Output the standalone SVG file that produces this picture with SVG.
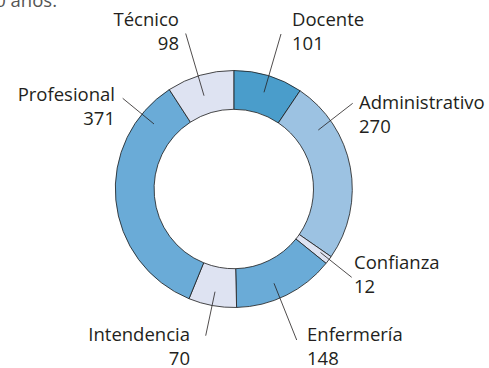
<svg xmlns="http://www.w3.org/2000/svg" width="489" height="368" viewBox="0 0 489 368">
<style>
.s{stroke:#1a1a1a;stroke-width:0.8;stroke-linejoin:round}
.dk{fill:#4a9dcb}.md{fill:#6aabd7}.lt{fill:#9cc2e2}.pl{fill:#dee3f2}
text{font-family:"Open Sans","Noto Sans",sans-serif;font-size:18.5px;fill:#231f20}
.e{text-anchor:end}
.ld{stroke:#231f20;stroke-width:0.8;fill:none}
</style>
<rect width="489" height="368" fill="#fff"/>
<text x="57" y="7" class="e" style="fill:#555">0 años.</text>
<g id="docente">
<path class="s dk" d="M233.8,70.5 A118.5,118.5 0 0 1 300.03,90.74 L278.34,122.91 A79.7,79.7 0 0 0 233.8,109.3 Z"/>
<text x="292" y="26">Docente</text><text x="292" y="50">101</text>
</g>
<g id="administrativo">
<path class="s lt" d="M300.03,90.74 A118.5,118.5 0 0 1 331.09,256.66 L299.23,234.51 A79.7,79.7 0 0 0 278.34,122.91 Z"/>
<text x="359" y="109">Administrativo</text><text x="359" y="133">270</text>
</g>
<g id="confianza">
<path class="s pl" d="M331.09,256.66 A118.5,118.5 0 0 1 326.06,263.36 L295.85,239.01 A79.7,79.7 0 0 0 299.23,234.51 Z"/>
<text x="354" y="269">Confianza</text><text x="354" y="293">12</text>
</g>
<g id="enfermeria">
<path class="s md" d="M326.06,263.36 A118.5,118.5 0 0 1 236.58,307.47 L235.67,268.68 A79.7,79.7 0 0 0 295.85,239.01 Z"/>
<text x="307" y="341">Enfermería</text><text x="307" y="365">148</text>
</g>
<g id="intendencia">
<path class="s pl" d="M236.58,307.47 A118.5,118.5 0 0 1 189.02,298.71 L203.68,262.79 A79.7,79.7 0 0 0 235.67,268.68 Z"/>
<text x="190" y="341" class="e">Intendencia</text><text x="190" y="365" class="e">70</text>
</g>
<g id="profesional">
<path class="s md" d="M189.02,298.71 A118.5,118.5 0 0 1 169.30,89.59 L190.42,122.14 A79.7,79.7 0 0 0 203.68,262.79 Z"/>
<text x="115" y="101" class="e">Profesional</text><text x="115" y="125" class="e">371</text>
</g>
<g id="tecnico">
<path class="s pl" d="M169.30,89.59 A118.5,118.5 0 0 1 233.8,70.5 L233.8,109.3 A79.7,79.7 0 0 0 190.42,122.14 Z"/>
<text x="179" y="26" class="e">Técnico</text><text x="179" y="50" class="e">98</text>
</g>
<g id="connectors">
<line class="ld" x1="185.7" y1="33.5" x2="204" y2="95.7"/>
<line class="ld" x1="281" y1="34" x2="264" y2="92.3"/>
<line class="ld" x1="122.7" y1="98.3" x2="154" y2="124"/>
<line class="ld" x1="352.7" y1="103.3" x2="318.3" y2="130"/>
<line class="ld" x1="351.7" y1="277.3" x2="320.5" y2="252.5"/>
<line class="ld" x1="296.7" y1="340" x2="274" y2="283.3"/>
<line class="ld" x1="205.7" y1="335.7" x2="215" y2="291.7"/>
</g>
</svg>
